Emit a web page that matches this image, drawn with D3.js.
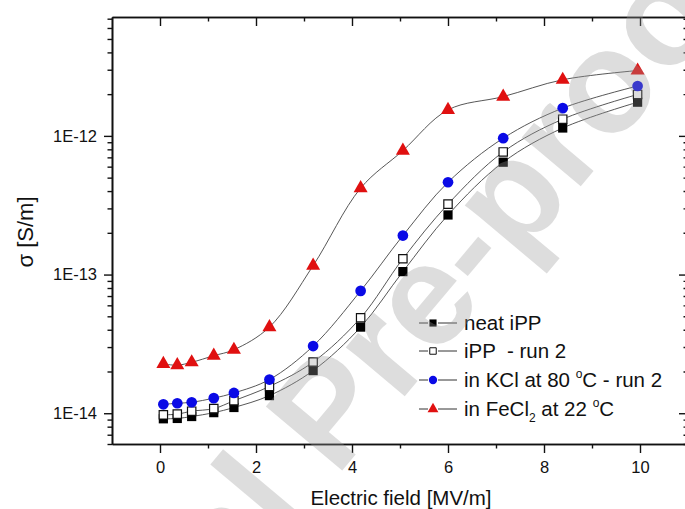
<!DOCTYPE html>
<html>
<head>
<meta charset="utf-8">
<script src="https://cdn.jsdelivr.net/npm/d3@7"></script>
<style>
  body { margin: 0; background: #fff; }
  text { font-family: "Liberation Sans", Arial, sans-serif; fill: #111; }
</style>
</head>
<body>
<script>
// electric field values (MV/m), shared by all series
var field = [0.07, 0.36, 0.66, 1.12, 1.54, 2.28, 3.19, 4.18, 5.06, 6.0, 7.15, 8.39, 9.95];

var neatIPP  = [9.12e-15, 9.17e-15, 9.47e-15, 1.01e-14, 1.10e-14, 1.34e-14, 2.03e-14, 4.18e-14, 1.05e-13, 2.69e-13, 6.46e-13, 1.14e-12, 1.75e-12];
var ippRun2  = [9.74e-15, 9.85e-15, 1.035e-14, 1.08e-14, 1.23e-14, 1.56e-14, 2.34e-14, 4.88e-14, 1.30e-13, 3.22e-13, 7.66e-13, 1.32e-12, 1.99e-12];
var kclRun2  = [1.16e-14, 1.18e-14, 1.20e-14, 1.285e-14, 1.40e-14, 1.75e-14, 3.05e-14, 7.63e-14, 1.91e-13, 4.63e-13, 9.62e-13, 1.585e-12, 2.29e-12];
var fecl2    = [2.27e-14, 2.22e-14, 2.33e-14, 2.60e-14, 2.87e-14, 4.18e-14, 1.16e-13, 4.20e-13, 7.83e-13, 1.54e-12, 1.92e-12, 2.54e-12, 2.96e-12];

var xTicks = [0, 2, 4, 6, 8, 10];
var xMinor = [1, 3, 5, 7, 9];
var yTicks = [1e-14, 1e-13, 1e-12];
var yTickLabels = ["1E-14", "1E-13", "1E-12"];

var W = 685, H = 509;
var padL = 112, padR = 688, padT = 17, padB = 444;

var svg = d3.select("body").append("svg")
    .attr("width", W)
    .attr("height", H);

var x = d3.scaleLinear().domain([-1, 11]).range([padL, padR]);
var y = d3.scaleLog().domain([6e-15, 7.2e-12]).range([padB, padT]);

// minor log ticks 2..9 in each decade
var yMinor = [];
[-15, -14, -13, -12].forEach(function(e) {
  for (var m = 2; m <= 9; m++) {
    var v = m * Math.pow(10, e);
    if (v > 6e-15 && v < 7.2e-12) yMinor.push(v);
  }
});

var series = [
  {name: "neat", vals: neatIPP, sym: d3.symbolSquare, size: 85, fill: "#000", stroke: "none"},
  {name: "run2", vals: ippRun2, sym: d3.symbolSquare, size: 70, fill: "#fff", stroke: "#111"},
  {name: "kcl", vals: kclRun2, sym: d3.symbolCircle, size: 90, fill: "#0a0ae6", stroke: "none"},
  {name: "fecl", vals: fecl2, sym: d3.symbolTriangle, size: 85, fill: "#e01010", stroke: "none"}
];

var line = d3.line()
    .x(function(d) { return x(d[0]); })
    .y(function(d) { return y(d[1]); })
    .curve(d3.curveCatmullRom.alpha(0.5));

series.forEach(function(s) {
  var pts = field.map(function(f, i) { return [f, s.vals[i]]; });
  svg.append("path")
    .attr("d", line(pts))
    .attr("fill", "none")
    .attr("stroke", "#444")
    .attr("stroke-width", 0.9);
});

series.forEach(function(s) {
  var pts = field.map(function(f, i) { return [f, s.vals[i]]; });
  svg.selectAll(".m-" + s.name).data(pts)
    .enter().append("path")
    .attr("class", "m-" + s.name)
    .attr("d", d3.symbol().type(s.sym).size(s.size))
    .attr("transform", function(d) { return "translate(" + x(d[0]) + "," + y(d[1]) + ")"; })
    .attr("fill", s.fill)
    .attr("stroke", s.stroke)
    .attr("stroke-width", 1.2);
});

// axes
var axisColor = "#111";
function styleAxis(g) {
  g.attr("font-size", 16.5).attr("font-family", "Liberation Sans, Arial, sans-serif");
  g.select(".domain").attr("stroke", axisColor).attr("stroke-width", 1.6);
  g.selectAll(".tick line").attr("stroke", axisColor).attr("stroke-width", 1.4);
  g.selectAll("text").attr("fill", "#111");
}

svg.append("g").attr("transform", "translate(0," + padB + ")")
  .call(d3.axisBottom(x).tickValues(xTicks).tickSize(9).tickPadding(8).tickSizeOuter(0))
  .call(styleAxis);
svg.append("g").attr("transform", "translate(0," + padB + ")")
  .call(d3.axisBottom(x).tickValues(xMinor).tickSize(4.5).tickFormat("").tickSizeOuter(0))
  .call(styleAxis);

svg.append("g").attr("transform", "translate(0," + padT + ")")
  .call(d3.axisBottom(x).tickValues(xTicks).tickSize(9).tickFormat("").tickSizeOuter(0))
  .call(styleAxis);
svg.append("g").attr("transform", "translate(0," + padT + ")")
  .call(d3.axisBottom(x).tickValues(xMinor).tickSize(4.5).tickFormat("").tickSizeOuter(0))
  .call(styleAxis);

svg.append("g").attr("transform", "translate(" + padL + ",0)")
  .call(d3.axisLeft(y).tickValues(yTicks).tickSize(8).tickPadding(7).tickSizeOuter(0)
        .tickFormat(function(d, i) { return yTickLabels[i]; }))
  .call(styleAxis);
svg.append("g").attr("transform", "translate(" + padL + ",0)")
  .call(d3.axisLeft(y).tickValues(yMinor).tickSize(4.5).tickFormat("").tickSizeOuter(0))
  .call(styleAxis);

svg.append("g").attr("transform", "translate(" + padR + ",0)")
  .call(d3.axisLeft(y).tickValues(yTicks).tickSize(9).tickFormat("").tickSizeOuter(0))
  .call(styleAxis);
svg.append("g").attr("transform", "translate(" + padR + ",0)")
  .call(d3.axisLeft(y).tickValues(yMinor).tickSize(4.5).tickFormat("").tickSizeOuter(0))
  .call(styleAxis);

// axis titles
svg.append("text")
  .attr("x", 401).attr("y", 505)
  .attr("text-anchor", "middle")
  .attr("font-size", 20.5)
  .text("Electric field [MV/m]");

svg.append("text")
  .attr("transform", "translate(33,232) rotate(-90)")
  .attr("text-anchor", "middle")
  .attr("font-size", 22)
  .text("σ [S/m]");

// legend
var legendRows = [323, 351, 380, 409];
var legend = svg.append("g");
series.forEach(function(s, i) {
  var ly = legendRows[i];
  legend.append("line").attr("x1", 419).attr("x2", 428).attr("y1", ly).attr("y2", ly)
    .attr("stroke", "#333").attr("stroke-width", 1);
  legend.append("line").attr("x1", 438).attr("x2", 457).attr("y1", ly).attr("y2", ly)
    .attr("stroke", "#333").attr("stroke-width", 1);
  legend.append("path")
    .attr("d", d3.symbol().type(s.sym).size(s.size * 0.6))
    .attr("transform", "translate(433," + ly + ")")
    .attr("fill", s.fill).attr("stroke", s.stroke).attr("stroke-width", 1);
});

function legendText(i) {
  return legend.append("text").attr("x", 464).attr("y", legendRows[i] + 7).attr("font-size", 20.5);
}
legendText(0).text("neat iPP");
legendText(1).attr("xml:space", "preserve").text("iPP  - run 2");
var t3 = legendText(2);
t3.append("tspan").text("in KCl at 80 ");
t3.append("tspan").attr("font-size", 12).attr("dy", -9).text("o");
t3.append("tspan").attr("dy", 9).text("C - run 2");
var t4 = legendText(3);
t4.append("tspan").text("in FeCl");
t4.append("tspan").attr("font-size", 12).attr("dy", 6).text("2");
t4.append("tspan").attr("dy", -6).text(" at 22 ");
t4.append("tspan").attr("font-size", 12).attr("dy", -9).text("o");
t4.append("tspan").attr("dy", 9).text("C");

// watermark
var wm = svg.append("g")
  .attr("transform", "translate(336,478) rotate(-50)")
  .attr("opacity", 0.33);
wm.append("text").attr("text-anchor", "end").attr("font-size", 145).attr("font-weight", "bold")
  .style("fill", "#9a9a9a").text("Journal\u00a0");
wm.append("text").attr("text-anchor", "start").attr("font-size", 145).attr("font-weight", "bold")
  .style("fill", "#9a9a9a").text("Pre-proof");
</script>
</body>
</html>
